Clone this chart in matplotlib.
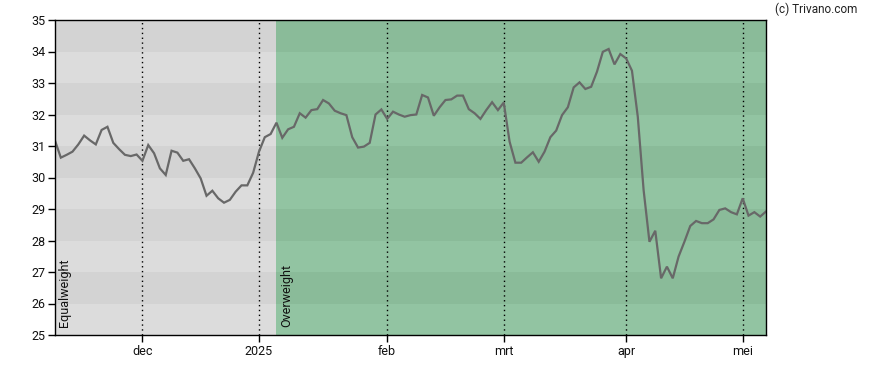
import matplotlib
matplotlib.use("Agg")
import matplotlib.pyplot as plt

# Price series, one value per trading day (index 0 .. 122)
prices = [
    31.17, 30.63, 30.72, 30.82, 31.05, 31.33, 31.18, 31.05, 31.51, 31.61,
    31.10, 30.90, 30.72, 30.68, 30.73, 30.53, 31.03, 30.77, 30.29, 30.08,
    30.85, 30.79, 30.53, 30.58, 30.29, 29.97, 29.42, 29.58, 29.34, 29.20,
    29.29, 29.55, 29.75, 29.75, 30.15, 30.82, 31.28, 31.38, 31.74, 31.26,
    31.53, 31.61, 32.04, 31.90, 32.14, 32.17, 32.46, 32.35, 32.12, 32.04,
    31.98, 31.28, 30.95, 30.98, 31.10, 32.00, 32.16, 31.86, 32.09, 32.00,
    31.93, 31.98, 32.00, 32.62, 32.54, 31.96, 32.23, 32.46, 32.48, 32.60,
    32.60, 32.17, 32.04, 31.86, 32.14, 32.39, 32.14, 32.38, 31.14, 30.47,
    30.47, 30.64, 30.80, 30.50, 30.82, 31.28, 31.49, 31.98, 32.23, 32.86,
    33.02, 32.81, 32.88, 33.36, 33.99, 34.08, 33.59, 33.92, 33.78, 33.39,
    31.93, 29.60, 27.96, 28.31, 26.80, 27.17, 26.80, 27.49, 27.96, 28.46,
    28.62, 28.55, 28.55, 28.67, 28.97, 29.02, 28.90, 28.83, 29.34, 28.79,
    28.90, 28.76, 28.92,
]

# Month tick labels and their trading-day index
month_labels = ["dec", "2025", "feb", "mrt", "apr", "mei"]
month_index = [15, 35, 57, 77, 98, 118]

# Rating regions: (start index, end index, label)
region_labels = ["Equalweight", "Overweight"]
region_start = [0, 38]
region_end = [38, 122]

y_ticks = [25, 26, 27, 28, 29, 30, 31, 32, 33, 34, 35]

plt.rcParams['font.family'] = ['Roboto', 'DejaVu Sans']

fig = plt.figure(figsize=(8.88, 3.70), dpi=100)
ax = fig.add_axes([55/888, 35/370, (766-55)/888, (335-20)/370])

colors = {
    "Equalweight": ("#d3d3d3", "#dcdcdc"),
    "Overweight": ("#8abb99", "#92c4a2"),
}

for lab, s, e in zip(region_labels, region_start, region_end):
    dark, light = colors[lab]
    for k in range(25, 35):
        c = dark if (k % 2 == 0) else light
        ax.fill_between([s, e], k, k + 1, color=c, linewidth=0, zorder=0)
    ax.text(s + 0.6, 25.25, lab, rotation=90, fontsize=9, color="#111111",
            ha="left", va="bottom", zorder=3)

for xi in month_index:
    ax.axvline(xi, color="black", linestyle=(0, (1, 2.5)), linewidth=1.0, zorder=1)

ax.plot(range(len(prices)), prices, color="#686868", linewidth=1.6, zorder=2,
        solid_joinstyle="miter")

ax.set_xlim(0, 122)
ax.set_ylim(25, 35)
ax.set_yticks(y_ticks)
ax.set_yticklabels([str(v) for v in y_ticks])
ax.set_xticks(month_index)
ax.set_xticklabels(month_labels)
ax.tick_params(axis="both", labelsize=9, length=5, width=1, color="black",
               labelcolor="#111111", pad=2)
for sp in ax.spines.values():
    sp.set_linewidth(1.0)
    sp.set_color("black")

fig.text(857/888, 1 - 9/370, "(c) Trivano.com", fontsize=8.5, ha="right",
         va="center", color="#222222")

fig.savefig("out.png", dpi=100)
